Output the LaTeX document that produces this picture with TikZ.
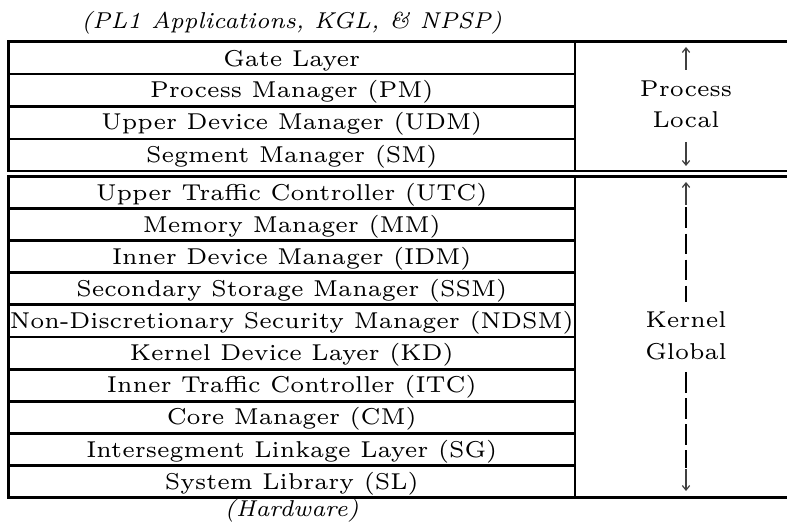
\documentclass[tikz,border=0pt]{standalone}
\usetikzlibrary{arrows.meta}
\begin{document}
\begin{tikzpicture}[x=0.244pt,y=-0.244pt,
  txt/.style={font=\fontsize{5.6}{6.6}\selectfont, inner sep=0pt, anchor=base},
  ttl/.style={font=\fontsize{5.6}{6.6}\selectfont\itshape, inner sep=0pt, anchor=base},
  frame/.style={line width=0.72pt},
  thinarrow/.style={line width=0.3pt, draw=black!75, -{Straight Barb[length=1.1pt,width=1.8pt]}},
  dashline/.style={line width=0.48pt, dash pattern=on 5.1pt off 1.25pt}]
\useasboundingbox (0,0) rectangle (787,525);
% frame lines
\draw[frame] (787,41.5) -- (8.5,41.5) -- (8.5,171) -- (787,171);
\draw[frame] (575,41.5) -- (575,171);
\foreach \y in {74,106.5,139} \draw[frame] (8.5,\y) -- (575,\y);
\draw[frame] (787,176.5) -- (8.5,176.5) -- (8.5,497.5) -- (787,497.5);
\draw[frame] (575,176.5) -- (575,497.5);
\foreach \k in {1,...,9} \draw[frame] (8.5,176.5+32.1*\k) -- (575,176.5+32.1*\k);
% titles
\node[ttl] (top) at (291.75,28.5) {(PL1 Applications, KGL, \& NPSP)};
\node[ttl] (hw) at (291.75,516.5) {(Hardware)};
% upper rows
\node[txt] (gl) at (291.75,66.5) {Gate Layer};
\node[txt] (pm) at (291.75,97.5) {Process Manager (PM)};
\node[txt] (udm) at (291.75,130) {Upper Device Manager (UDM)};
\node[txt] (sm) at (291.75,162.5) {Segment Manager (SM)};
% lower rows
\node[txt] (utc) at (291.75,200.3) {Upper Traffic Controller (UTC)};
\node[txt] (mm) at (291.75,232.4) {Memory Manager (MM)};
\node[txt] (idm) at (291.75,264.5) {Inner Device Manager (IDM)};
\node[txt] (ssm) at (291.75,296.6) {Secondary Storage Manager (SSM)};
\node[txt] (ndsm) at (291.75,328.7) {Non-Discretionary Security Manager (NDSM)};
\node[txt] (kd) at (291.75,360.8) {Kernel Device Layer (KD)};
\node[txt] (itc) at (291.75,392.9) {Inner Traffic Controller (ITC)};
\node[txt] (cm) at (291.75,425) {Core Manager (CM)};
\node[txt] (sg) at (291.75,457.1) {Intersegment Linkage Layer (SG)};
\node[txt] (sl) at (291.75,489.2) {System Library (SL)};
% right column
\node[txt] (proc) at (686,96.5) {Process};
\node[txt] (loc) at (686,128) {Local};
\coordinate (pu0) at (686,70);
\coordinate (pu1) at (686,47);
\coordinate (pd0) at (686,142);
\coordinate (pd1) at (686,166);
\draw[thinarrow] (pu0) -- (pu1);
\draw[thinarrow] (pd0) -- (pd1);
\node[txt] (ker) at (686,328) {Kernel};
\node[txt] (glo) at (686,360) {Global};
\coordinate (ku0) at (686,205);
\coordinate (ku1) at (686,182);
\coordinate (kd0) at (686,469);
\coordinate (kd1) at (686,491);
\coordinate (ka) at (686,207.5);
\coordinate (kb) at (686,302);
\coordinate (kc) at (686,372);
\coordinate (kdd) at (686,467.5);
\draw[thinarrow] (ku0) -- (ku1);
\draw[thinarrow] (kd0) -- (kd1);
\draw[dashline] (ka) -- (kb);
\draw[dashline] (kc) -- (kdd);
\end{tikzpicture}
\end{document}
